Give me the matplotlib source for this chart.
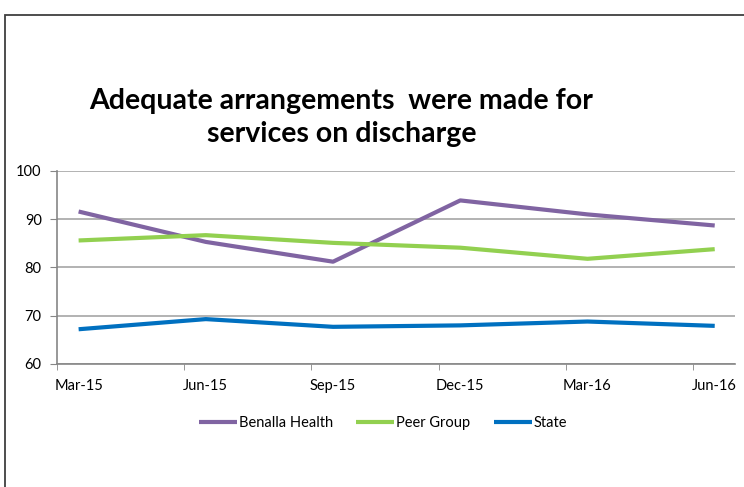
import matplotlib
matplotlib.use("Agg")
import matplotlib.pyplot as plt
from matplotlib.patches import Rectangle
import numpy as np

quarters = ["Mar-15", "Jun-15", "Sep-15", "Dec-15", "Mar-16", "Jun-16"]
benalla = [91.6, 85.3, 81.2, 93.9, 91.0, 88.7]
peer_group = [85.6, 86.7, 85.1, 84.1, 81.8, 83.8]
state = [67.2, 69.3, 67.7, 68.0, 68.8, 67.9]

plt.rcParams["font.family"] = ["Lato", "DejaVu Sans"]

fig = plt.figure(figsize=(7.44, 4.87), dpi=100)
ax = fig.add_axes([0.0766, 0.2526, 0.9114, 0.3963])

x = np.arange(len(quarters))
ax.plot(x, benalla, color="#8064A2", lw=3, label="Benalla Health", solid_capstyle="butt")
ax.plot(x, peer_group, color="#92D050", lw=3, label="Peer Group", solid_capstyle="butt")
ax.plot(x, state, color="#0070C0", lw=3, label="State", solid_capstyle="butt")

ax.set_xlim(-0.165, 5.16)
ax.set_ylim(60, 100)
ax.set_yticks([60, 70, 80, 90, 100])
ax.grid(axis="y", color="#A6A6A6", lw=1.2)
ax.set_axisbelow(True)

# labels sit on the points, tick marks sit between them
ax.set_xticks(x)
ax.set_xticklabels(quarters)
ax.set_xticks(x - 0.17, minor=True)
ax.tick_params(axis="x", which="major", length=0, pad=11, labelsize=10.5)
ax.tick_params(axis="x", which="minor", length=4, color="#868686", direction="out")
ax.tick_params(axis="y", length=5, color="#868686", pad=6, labelsize=10.5)

for side in ["top", "right"]:
    ax.spines[side].set_visible(False)
for side in ["left", "bottom"]:
    ax.spines[side].set_color("#868686")
    ax.spines[side].set_linewidth(1.2)

fig.text(0.459, 0.708, "Adequate arrangements  were made for\nservices on discharge",
         ha="center", va="baseline", fontsize=20.5, fontweight="bold",
         linespacing=1.35, multialignment="center")

fig.legend(loc="center", bbox_to_anchor=(0.515, 0.131), ncol=3, frameon=False,
           fontsize=10.5, handlelength=2.6, handletextpad=0.15, columnspacing=1.6)

# outer chart frame, running off the right and bottom edges
fig.patches.append(Rectangle((5 / 744, -0.1), 1.2, 1 - 14.7 / 487 + 0.1,
                             transform=fig.transFigure, fill=False,
                             edgecolor="#3F3F3F", lw=1.3))

fig.savefig("out.png", dpi=100)
